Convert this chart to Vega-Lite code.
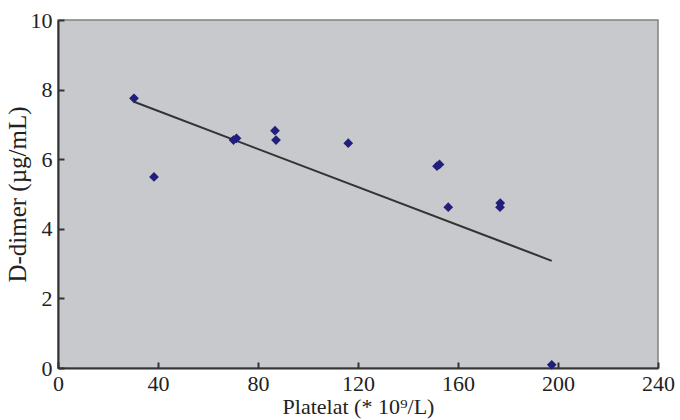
{
  "$schema": "https://vega.github.io/schema/vega-lite/v6.json",
  "width": 600,
  "height": 348,
  "autosize": {"type": "none"},
  "padding": {"left": 58, "top": 20, "right": 22, "bottom": 52},
  "background": "white",
  "config": {
    "view": {"fill": "#c8c9cd", "stroke": "#808080", "strokeWidth": 1.5},
    "font": "Liberation Serif"
  },
  "datasets": {
    "pts": [
      {"platelet": 30.4, "ddimer": 7.75},
      {"platelet": 38.4, "ddimer": 5.49},
      {"platelet": 70.2, "ddimer": 6.55},
      {"platelet": 71.4, "ddimer": 6.6},
      {"platelet": 86.8, "ddimer": 6.82},
      {"platelet": 87.2, "ddimer": 6.55},
      {"platelet": 116.1, "ddimer": 6.46},
      {"platelet": 151.6, "ddimer": 5.8},
      {"platelet": 152.6, "ddimer": 5.85},
      {"platelet": 156.1, "ddimer": 4.62},
      {"platelet": 176.8, "ddimer": 4.62},
      {"platelet": 176.9, "ddimer": 4.74},
      {"platelet": 197.5, "ddimer": 0.09}
    ],
    "trend": [
      {"platelet": 30.4, "ddimer": 7.65},
      {"platelet": 197.5, "ddimer": 3.08}
    ]
  },
  "layer": [
    {
      "data": {"name": "trend"},
      "mark": {"type": "line", "color": "#333333", "strokeWidth": 2},
      "encoding": {
        "x": {"field": "platelet", "type": "quantitative", "axis": null},
        "y": {"field": "ddimer", "type": "quantitative", "axis": null}
      }
    },
    {
      "data": {"name": "pts"},
      "mark": {"type": "point", "shape": "diamond", "filled": true, "color": "#221f7c", "opacity": 1, "size": 95},
      "encoding": {
        "x": {
          "field": "platelet", "type": "quantitative",
          "scale": {"domain": [0, 240], "nice": false, "zero": true},
          "axis": {
            "orient": "bottom",
            "values": [0, 40, 80, 120, 160, 200, 240],
            "title": "Platelat (* 10⁹/L)",
            "titleFont": "Liberation Serif", "titleFontSize": 22, "titleFontWeight": "normal", "titleColor": "#222",
            "titlePadding": 2,
            "labelFont": "Liberation Serif", "labelFontSize": 22, "labelColor": "#222",
            "labelPadding": 5,
            "ticks": false,
            "domainColor": "#333", "domainWidth": 2,
            "grid": false, "labelFlush": false
          }
        },
        "y": {
          "field": "ddimer", "type": "quantitative",
          "scale": {"domain": [0, 10], "nice": false},
          "axis": {
            "orient": "left",
            "values": [0, 2, 4, 6, 8, 10],
            "title": "D-dimer (µg/mL)",
            "titleFont": "Liberation Serif", "titleFontSize": 25, "titleFontWeight": "normal", "titleColor": "#222",
            "titleX": -28, "titleY": 174,
            "labelFont": "Liberation Serif", "labelFontSize": 22, "labelColor": "#222",
            "labelPadding": 6,
            "ticks": false,
            "domainColor": "#333", "domainWidth": 2,
            "grid": false, "labelFlush": false
          }
        }
      }
    },
    {
      "data": {"name": "pts"},
      "mark": {"type": "point", "opacity": 0},
      "encoding": {
        "x": {
          "field": "platelet", "type": "quantitative",
          "axis": {
            "orient": "top", "offset": -348,
            "values": [0, 40, 80, 120, 160, 200, 240],
            "title": null, "labels": false, "domain": false,
            "tickSize": 6, "tickColor": "#333", "tickWidth": 2, "grid": false
          }
        },
        "y": {
          "field": "ddimer", "type": "quantitative",
          "axis": {
            "orient": "right", "offset": -600,
            "values": [0, 2, 4, 6, 8, 10],
            "title": null, "labels": false, "domain": false,
            "tickSize": 6, "tickColor": "#333", "tickWidth": 2, "grid": false
          }
        }
      }
    }
  ],
  "resolve": {"axis": {"x": "independent", "y": "independent"}}
}
